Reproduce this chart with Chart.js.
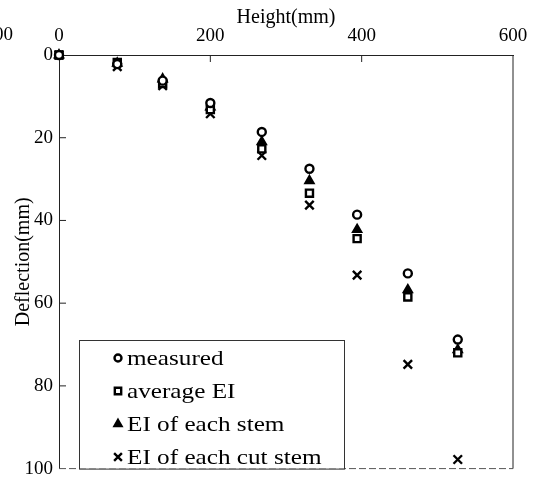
<!DOCTYPE html>
<html>
<head>
<meta charset="utf-8">
<script src="https://cdn.jsdelivr.net/npm/chart.js@4"></script>
<style>
  html, body { margin: 0; padding: 0; background: #fff; }
</style>
</head>
<body>
<canvas id="deflection" width="538" height="486"></canvas>
<script>
const heights = [0, 77, 137, 200, 268, 331, 394, 461, 527];
const measured = [0, 2.2, 6.2, 11.6, 18.6, 27.5, 38.6, 52.8, 68.8];
const averageEI = [0, 1.8, 6.9, 13.2, 22.7, 33.4, 44.4, 58.5, 72.0];
const eachStem = [0, 2.0, 5.8, 12.6, 21.0, 30.4, 42.2, 56.8, 71.3];
const eachCutStem = [0, 2.8, 7.4, 14.2, 24.3, 36.3, 53.2, 74.8, 97.8];
const xTicks = [0, 200, 400, 600];
const yTicks = [0, 20, 40, 60, 80, 100];

const serif = '"Liberation Serif", "Times New Roman", serif';
Chart.defaults.font.family = serif;
Chart.defaults.color = "#000";

function points(ys) {
  return heights.map((h, i) => ({ x: h, y: ys[i] }));
}

function series(label, ys, style, fill, radius) {
  return {
    label: label,
    data: points(ys),
    pointStyle: style,
    pointRadius: radius,
    pointBorderWidth: 2.4,
    borderColor: "#000",
    backgroundColor: fill,
    showLine: false,
    clip: false,
  };
}

// frame, inward ticks and the clipped label at the far left
const frame = {
  id: "frame",
  afterDraw(chart) {
    const { ctx, chartArea: a, scales } = chart;
    ctx.save();
    ctx.lineWidth = 1;
    ctx.strokeStyle = "#222";
    ctx.beginPath();
    ctx.moveTo(a.right, a.top);
    ctx.lineTo(a.right, a.bottom);
    ctx.stroke();

    ctx.strokeStyle = "#555";
    ctx.setLineDash([7, 3]);
    ctx.beginPath();
    ctx.moveTo(a.left, a.bottom);
    ctx.lineTo(a.right, a.bottom);
    ctx.stroke();
    ctx.setLineDash([]);

    ctx.strokeStyle = "#222";
    ctx.beginPath();
    scales.x.ticks.forEach((t) => {
      const px = scales.x.getPixelForValue(t.value);
      if (px > a.left + 1 && px < a.right - 1) {
        ctx.moveTo(px, a.top);
        ctx.lineTo(px, a.top + 7);
      }
    });
    scales.y.ticks.forEach((t) => {
      const py = scales.y.getPixelForValue(t.value);
      if (py > a.top + 1 && py < a.bottom - 1) {
        ctx.moveTo(a.left, py);
        ctx.lineTo(a.left + 7, py);
      }
    });
    ctx.stroke();

    ctx.fillStyle = "#000";
    ctx.font = "19px " + serif;
    ctx.textAlign = "right";
    ctx.textBaseline = "middle";
    ctx.fillText("600", 13, 35);
    ctx.restore();
  },
};

// boxed legend inside the plot, lower left
const boxLegend = {
  id: "boxLegend",
  afterDraw(chart) {
    const { ctx, chartArea: a } = chart;
    const left = a.left + 20;
    const top = 340;
    const right = 344;
    ctx.save();
    ctx.fillStyle = "#fff";
    ctx.fillRect(left, top, right - left, a.bottom - top);
    ctx.strokeStyle = "#333";
    ctx.lineWidth = 1;
    ctx.strokeRect(left + 0.5, top + 0.5, right - left, a.bottom - top);

    ctx.font = "21px " + serif;
    ctx.textBaseline = "middle";
    chart.data.datasets.forEach((ds, i) => {
      const y = 358 + i * 33;
      ctx.strokeStyle = "#000";
      ctx.fillStyle = ds.backgroundColor;
      ctx.lineWidth = 2.4;
      Chart.helpers.drawPoint(ctx, { pointStyle: ds.pointStyle, radius: ds.pointRadius - 0.5, borderWidth: 2.4, rotation: 0 }, left + 39, y);
      ctx.save();
      ctx.translate(left + 48, y + 1);
      ctx.scale(1.2, 1);
      ctx.fillStyle = "#000";
      ctx.fillText(ds.label, 0, 0);
      ctx.restore();
    });
    ctx.restore();
  },
};

new Chart("deflection", {
  type: "scatter",
  data: {
    datasets: [
      series("measured", measured, "circle", "#fff", 4),
      series("average EI", averageEI, "rect", "#fff", 5),
      series("EI of each stem", eachStem, "triangle", "#000", 4.5),
      series("EI of each cut stem", eachCutStem, "crossRot", "#fff", 6),
    ],
  },
  options: {
    responsive: false,
    animation: false,
    layout: { padding: { top: 0, left: 0, right: 25, bottom: 12 } },
    plugins: {
      legend: { display: false },
      tooltip: { enabled: false },
    },
    scales: {
      x: {
        type: "linear",
        position: "top",
        min: 0,
        max: 600,
        afterBuildTicks: (s) => { s.ticks = xTicks.map((v) => ({ value: v })); },
        afterFit: (s) => { s.height = 55; },
        ticks: { font: { size: 19 }, color: "#000", padding: 8, maxRotation: 0 },
        grid: { display: false, drawTicks: false },
        border: { color: "#222", width: 1 },
        title: {
          display: true,
          text: "Height(mm)",
          font: { size: 20 },
          color: "#000",
          padding: { top: 6, bottom: 0 },
        },
      },
      y: {
        type: "linear",
        reverse: true,
        min: 0,
        max: 100,
        afterBuildTicks: (s) => { s.ticks = yTicks.map((v) => ({ value: v })); },
        afterFit: (s) => { s.width = 59; },
        ticks: { font: { size: 19 }, color: "#000", padding: 6 },
        grid: { display: false, drawTicks: false },
        border: { color: "#222", width: 1 },
        title: {
          display: true,
          text: "Deflection(mm)",
          font: { size: 20 },
          color: "#000",
          padding: { top: 12, bottom: 0 },
        },
      },
    },
  },
  plugins: [frame, boxLegend],
});
</script>
</body>
</html>
